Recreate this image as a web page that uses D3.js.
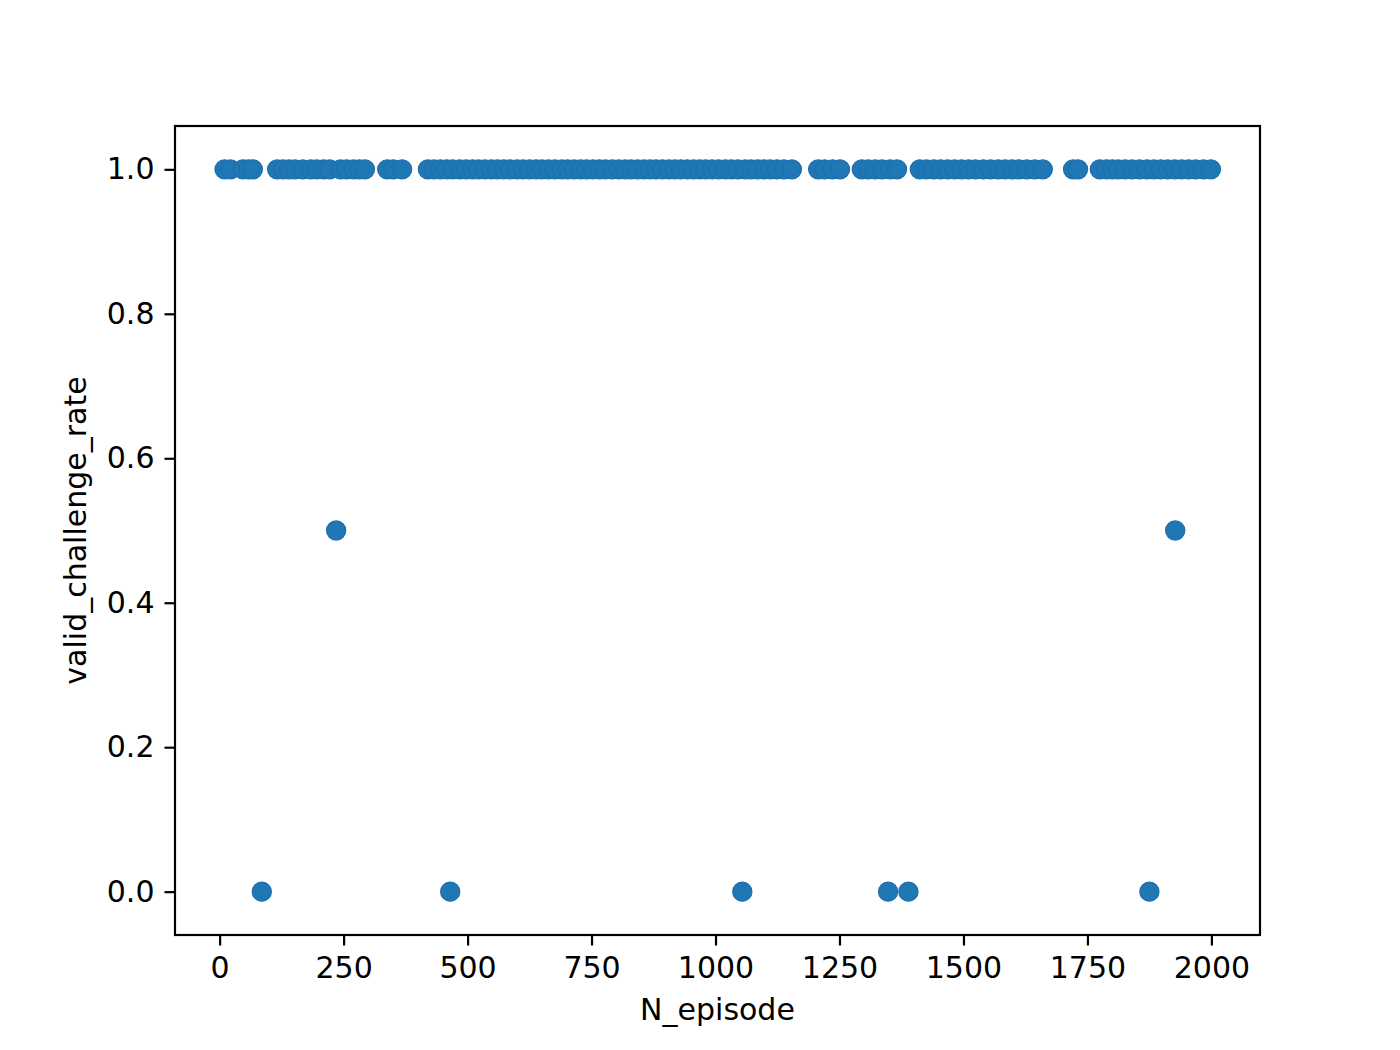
<!DOCTYPE html>
<html>
<head>
<meta charset="utf-8">
<script src="https://cdn.jsdelivr.net/npm/d3@7"></script>
<style>
	body { margin: 0; background: #fff; }
	svg { display: block; }
	.tick text { font-family: "DejaVu Sans", sans-serif; font-size: 30px; fill: #000; }
	.label { font-family: "DejaVu Sans", sans-serif; font-size: 30px; fill: #000; }
</style>
</head>
<body>
<div class="vis"></div>
<script>
// episodes where the rate was 1.0
var fullEpisodes = [
	10, 22, 47, 58, 67,
	116, 128, 140, 152, 168, 184, 196, 210, 222, 244, 256, 270, 282, 293,
	338, 350, 368,
	420, 432, 445, 458, 470, 484, 497, 510, 522, 535, 548, 560, 573, 586, 600,
	612, 625, 638, 650, 663, 676, 690, 702, 715, 728, 740, 753, 766, 778, 792,
	805, 818, 830, 843, 856, 868, 880, 893, 906, 918, 930, 943, 956, 968, 980,
	993, 1006, 1020, 1032, 1045, 1060, 1072, 1085, 1098, 1110, 1124, 1138, 1154,
	1207, 1220, 1236, 1251,
	1295, 1308, 1322, 1336, 1352, 1366,
	1412, 1425, 1440, 1454, 1468, 1482, 1496, 1510, 1524, 1540, 1555, 1570,
	1584, 1598, 1612, 1628, 1644, 1660,
	1721, 1731,
	1775, 1788, 1800, 1812, 1826, 1840, 1855, 1870, 1884, 1898, 1912, 1926,
	1940, 1954, 1968, 1984, 1999
];
// episodes where the rate was 0.5
var halfEpisodes = [235, 1927];
// episodes where the rate was 0.0
var zeroEpisodes = [85, 465, 1054, 1348, 1389, 1875];

var xTicks = [0, 250, 500, 750, 1000, 1250, 1500, 1750, 2000];
var yTicks = [0.0, 0.2, 0.4, 0.6, 0.8, 1.0];

var W = 1400, H = 1050;
var margin = {top: 126, right: 140, bottom: 115, left: 175};
var width = W - margin.left - margin.right,
    height = H - margin.top - margin.bottom;

var points = [];
fullEpisodes.forEach(function(e) { points.push({x: e, y: 1.0}); });
halfEpisodes.forEach(function(e) { points.push({x: e, y: 0.5}); });
zeroEpisodes.forEach(function(e) { points.push({x: e, y: 0.0}); });
points.sort(function(a, b) { return a.x - b.x; });

var svg = d3.select('.vis').append('svg')
	.attr('width', W)
	.attr('height', H);

var chart = svg.append('g')
	.attr('transform', 'translate(' + margin.left + ',' + margin.top + ')');

var scaleX = d3.scaleLinear().domain([-90, 2098]).range([0, width]);
var scaleY = d3.scaleLinear().domain([-0.06, 1.06]).range([height, 0]);

chart.selectAll('.dot')
	.data(points)
	.enter().append('circle')
	.attr('class', 'dot')
	.attr('cx', function(d) { return scaleX(d.x); })
	.attr('cy', function(d) { return scaleY(d.y); })
	.attr('r', 9.6)
	.attr('fill', '#1f77b4')
	.attr('stroke', '#1f6fae')
	.attr('stroke-width', 1.2);

var xAxis = d3.axisBottom(scaleX)
	.tickValues(xTicks)
	.tickFormat(d3.format('d'))
	.tickSize(10.5)
	.tickPadding(11);

var yAxis = d3.axisLeft(scaleY)
	.tickValues(yTicks)
	.tickFormat(d3.format('.1f'))
	.tickSize(10.5)
	.tickPadding(10);

var gx = chart.append('g')
	.attr('transform', 'translate(0,' + height + ')')
	.call(xAxis);
var gy = chart.append('g').call(yAxis);

[gx, gy].forEach(function(g) {
	g.select('.domain').remove();
	g.selectAll('.tick line').attr('stroke', '#000').attr('stroke-width', 2.2);
});

// frame
chart.append('rect')
	.attr('width', width)
	.attr('height', height)
	.attr('fill', 'none')
	.attr('stroke', '#000')
	.attr('stroke-width', 2.2);

svg.append('text')
	.attr('class', 'label')
	.attr('x', margin.left + width / 2)
	.attr('y', 1020)
	.attr('text-anchor', 'middle')
	.text('N_episode');

svg.append('text')
	.attr('class', 'label')
	.attr('transform', 'translate(86,' + (margin.top + height / 2) + ') rotate(-90)')
	.attr('text-anchor', 'middle')
	.text('valid_challenge_rate');
</script>
</body>
</html>
